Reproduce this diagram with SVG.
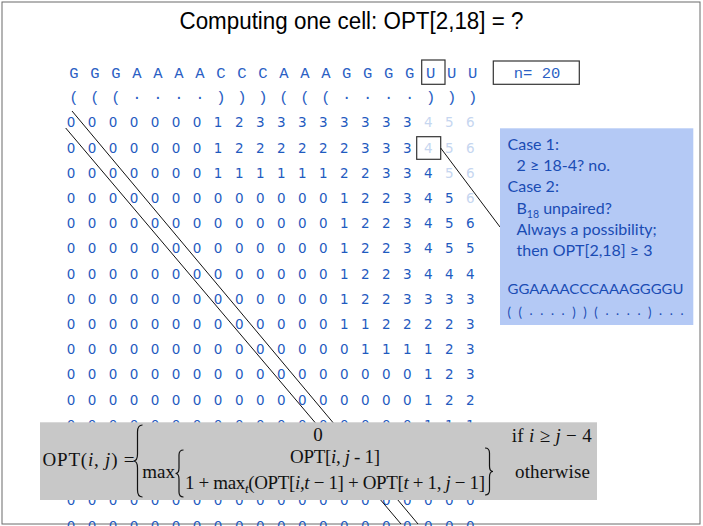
<svg xmlns="http://www.w3.org/2000/svg" width="703" height="526" viewBox="0 0 703 526">
  <style>
    .title { font-family: "Liberation Sans", Arial, sans-serif; font-size: 23px; fill: #000; }
    .seq { font-family: "Liberation Mono", "Courier New", monospace; font-size: 15.5px; fill: #2b5fc4; text-anchor: middle; }
    .num { font-family: "DejaVu Sans", Verdana, sans-serif; font-size: 13.5px; fill: #1f5bbf; text-anchor: middle; }
    .pending { fill: #c6d6f0; }
    .frame { fill: none; stroke: #6a6a6a; stroke-width: 1; }
    .cellbox { fill: none; stroke: #333; stroke-width: 1.2; }
    .note { font-family: Lato, "Open Sans", sans-serif; font-size: 16px; fill: #1a4cb4; }
    .note-sm { font-family: Lato, "Open Sans", sans-serif; font-size: 13px; fill: #1a4cb4; }
    .math { font-family: "Liberation Serif", "Times New Roman", serif; font-size: 19px; fill: #111; }
    .it { font-style: italic; }
    .brace { fill: none; stroke: #111; stroke-width: 1.2; }
    .conn line { stroke: #111; stroke-width: 1; }
  </style>

  <rect x="0" y="0" width="703" height="526" fill="#fff"/>
  <rect class="frame" x="2" y="2" width="698" height="522"/>

  <g id="title">
    <text class="title" x="351.5" y="29" text-anchor="middle" textLength="344" lengthAdjust="spacingAndGlyphs">Computing one cell: OPT[2,18] = ?</text>
  </g>

  <!-- RNA sequence and its secondary structure -->
  <g id="sequence">
    <text class="seq" y="78" x="74 84.5 95 105.5 116 126.5 136.9 147.4 157.9 168.4 178.9 189.4 199.9 210.4 220.9 231.4 241.8 252.3 262.8 273.3 283.8 294.3 304.8 315.3 325.8 336.3 346.7 357.2 367.7 378.2 388.7 399.2 409.7 420.2 430.7 441.2 451.6 462.1 472.6">G G G A A A A C C C A A A G G G G U U U</text>
    <rect class="cellbox" x="421.7" y="60" width="23.3" height="24.3"/>
  </g>
  <g id="structure">
    <text class="seq" y="102" x="74 84.5 95 105.5 116 126.5 136.9 147.4 157.9 168.4 178.9 189.4 199.9 210.4 220.9 231.4 241.8 252.3 262.8 273.3 283.8 294.3 304.8 315.3 325.8 336.3 346.7 357.2 367.7 378.2 388.7 399.2 409.7 420.2 430.7 441.2 451.6 462.1 472.6">( ( ( <tspan dy="-3.5">. . . .</tspan> <tspan dy="3.5">) ) ) ( ( (</tspan> <tspan dy="-3.5">. . . .</tspan> <tspan dy="3.5">) ) )</tspan></text>
  </g>

  <g id="length">
    <rect class="cellbox" x="493.3" y="61" width="86" height="23.3"/>
    <text class="seq" x="537" y="78" xml:space="preserve">n= 20</text>
  </g>

  <!-- OPT table: row i, column j -->
  <g id="table">
    <text class="num" y="127.3" x="71 81.5 92 102.5 113 123.5 134.1 144.6 155.1 165.6 176.1 186.6 197.1 207.6 218.1 228.6 239.2 249.7 260.2 270.7 281.2 291.7 302.2 312.7 323.2 333.7 344.3 354.8 365.3 375.8 386.3 396.8 407.3 417.8 428.3 438.8 449.4 459.9 470.4">0 0 0 0 0 0 0 1 2 3 3 3 3 3 3 3 3 <tspan class="pending">4 5 6</tspan></text>
    <text class="num" y="152.5" x="71 81.5 92 102.5 113 123.5 134.1 144.6 155.1 165.6 176.1 186.6 197.1 207.6 218.1 228.6 239.2 249.7 260.2 270.7 281.2 291.7 302.2 312.7 323.2 333.7 344.3 354.8 365.3 375.8 386.3 396.8 407.3 417.8 428.3 438.8 449.4 459.9 470.4">0 0 0 0 0 0 0 1 2 2 2 2 2 2 3 3 3 <tspan class="pending">4 5 6</tspan></text>
    <text class="num" y="177.7" x="71 81.5 92 102.5 113 123.5 134.1 144.6 155.1 165.6 176.1 186.6 197.1 207.6 218.1 228.6 239.2 249.7 260.2 270.7 281.2 291.7 302.2 312.7 323.2 333.7 344.3 354.8 365.3 375.8 386.3 396.8 407.3 417.8 428.3 438.8 449.4 459.9 470.4">0 0 0 0 0 0 0 1 1 1 1 1 1 2 2 3 3 4 <tspan class="pending">5 6</tspan></text>
    <text class="num" y="202.9" x="71 81.5 92 102.5 113 123.5 134.1 144.6 155.1 165.6 176.1 186.6 197.1 207.6 218.1 228.6 239.2 249.7 260.2 270.7 281.2 291.7 302.2 312.7 323.2 333.7 344.3 354.8 365.3 375.8 386.3 396.8 407.3 417.8 428.3 438.8 449.4 459.9 470.4">0 0 0 0 0 0 0 0 0 0 0 0 0 1 2 2 3 4 5 <tspan class="pending">6</tspan></text>
    <text class="num" y="228.1" x="71 81.5 92 102.5 113 123.5 134.1 144.6 155.1 165.6 176.1 186.6 197.1 207.6 218.1 228.6 239.2 249.7 260.2 270.7 281.2 291.7 302.2 312.7 323.2 333.7 344.3 354.8 365.3 375.8 386.3 396.8 407.3 417.8 428.3 438.8 449.4 459.9 470.4">0 0 0 0 0 0 0 0 0 0 0 0 0 1 2 2 3 4 5 6</text>
    <text class="num" y="253.3" x="71 81.5 92 102.5 113 123.5 134.1 144.6 155.1 165.6 176.1 186.6 197.1 207.6 218.1 228.6 239.2 249.7 260.2 270.7 281.2 291.7 302.2 312.7 323.2 333.7 344.3 354.8 365.3 375.8 386.3 396.8 407.3 417.8 428.3 438.8 449.4 459.9 470.4">0 0 0 0 0 0 0 0 0 0 0 0 0 1 2 2 3 4 5 5</text>
    <text class="num" y="278.5" x="71 81.5 92 102.5 113 123.5 134.1 144.6 155.1 165.6 176.1 186.6 197.1 207.6 218.1 228.6 239.2 249.7 260.2 270.7 281.2 291.7 302.2 312.7 323.2 333.7 344.3 354.8 365.3 375.8 386.3 396.8 407.3 417.8 428.3 438.8 449.4 459.9 470.4">0 0 0 0 0 0 0 0 0 0 0 0 0 1 2 2 3 4 4 4</text>
    <text class="num" y="303.7" x="71 81.5 92 102.5 113 123.5 134.1 144.6 155.1 165.6 176.1 186.6 197.1 207.6 218.1 228.6 239.2 249.7 260.2 270.7 281.2 291.7 302.2 312.7 323.2 333.7 344.3 354.8 365.3 375.8 386.3 396.8 407.3 417.8 428.3 438.8 449.4 459.9 470.4">0 0 0 0 0 0 0 0 0 0 0 0 0 1 2 2 3 3 3 3</text>
    <text class="num" y="328.9" x="71 81.5 92 102.5 113 123.5 134.1 144.6 155.1 165.6 176.1 186.6 197.1 207.6 218.1 228.6 239.2 249.7 260.2 270.7 281.2 291.7 302.2 312.7 323.2 333.7 344.3 354.8 365.3 375.8 386.3 396.8 407.3 417.8 428.3 438.8 449.4 459.9 470.4">0 0 0 0 0 0 0 0 0 0 0 0 0 1 1 2 2 2 2 3</text>
    <text class="num" y="354.1" x="71 81.5 92 102.5 113 123.5 134.1 144.6 155.1 165.6 176.1 186.6 197.1 207.6 218.1 228.6 239.2 249.7 260.2 270.7 281.2 291.7 302.2 312.7 323.2 333.7 344.3 354.8 365.3 375.8 386.3 396.8 407.3 417.8 428.3 438.8 449.4 459.9 470.4">0 0 0 0 0 0 0 0 0 0 0 0 0 0 1 1 1 1 2 3</text>
    <text class="num" y="379.3" x="71 81.5 92 102.5 113 123.5 134.1 144.6 155.1 165.6 176.1 186.6 197.1 207.6 218.1 228.6 239.2 249.7 260.2 270.7 281.2 291.7 302.2 312.7 323.2 333.7 344.3 354.8 365.3 375.8 386.3 396.8 407.3 417.8 428.3 438.8 449.4 459.9 470.4">0 0 0 0 0 0 0 0 0 0 0 0 0 0 0 0 0 1 2 3</text>
    <text class="num" y="404.5" x="71 81.5 92 102.5 113 123.5 134.1 144.6 155.1 165.6 176.1 186.6 197.1 207.6 218.1 228.6 239.2 249.7 260.2 270.7 281.2 291.7 302.2 312.7 323.2 333.7 344.3 354.8 365.3 375.8 386.3 396.8 407.3 417.8 428.3 438.8 449.4 459.9 470.4">0 0 0 0 0 0 0 0 0 0 0 0 0 0 0 0 0 1 2 2</text>
    <text class="num" y="429.7" x="71 81.5 92 102.5 113 123.5 134.1 144.6 155.1 165.6 176.1 186.6 197.1 207.6 218.1 228.6 239.2 249.7 260.2 270.7 281.2 291.7 302.2 312.7 323.2 333.7 344.3 354.8 365.3 375.8 386.3 396.8 407.3 417.8 428.3 438.8 449.4 459.9 470.4">0 0 0 0 0 0 0 0 0 0 0 0 0 0 0 0 0 1 1 1</text>
    <text class="num" y="505.3" x="71 81.5 92 102.5 113 123.5 134.1 144.6 155.1 165.6 176.1 186.6 197.1 207.6 218.1 228.6 239.2 249.7 260.2 270.7 281.2 291.7 302.2 312.7 323.2 333.7 344.3 354.8 365.3 375.8 386.3 396.8 407.3 417.8 428.3 438.8 449.4 459.9 470.4">0 0 0 0 0 0 0 0 0 0 0 0 0 0 0 0 0 0 0 0</text>
    <text class="num" y="530.5" x="71 81.5 92 102.5 113 123.5 134.1 144.6 155.1 165.6 176.1 186.6 197.1 207.6 218.1 228.6 239.2 249.7 260.2 270.7 281.2 291.7 302.2 312.7 323.2 333.7 344.3 354.8 365.3 375.8 386.3 396.8 407.3 417.8 428.3 438.8 449.4 459.9 470.4">0 0 0 0 0 0 0 0 0 0 0 0 0 0 0 0 0 0 0 0</text>
  </g>

  <g id="target-cell">
    <rect class="cellbox" x="416.7" y="136.7" width="24" height="22.6"/>
  </g>

  <g id="connectors" class="conn">
    <line x1="72" y1="111" x2="418" y2="524"/>
    <line x1="65.7" y1="128" x2="401" y2="524"/>
    <line x1="440.7" y1="148" x2="500" y2="227"/>
  </g>

  <g id="cases">
    <rect x="500" y="128.3" width="193.3" height="196.7" fill="#b4c9f5"/>
    <text class="note" x="507.5" y="150">Case 1:</text>
    <text class="note" x="516.5" y="170.5">2 ≥ 18-4? no.</text>
    <text class="note" x="507.5" y="192">Case 2:</text>
    <text class="note" x="516.5" y="213.5">B<tspan font-size="10.5" dy="4">18</tspan><tspan dy="-4"> unpaired?</tspan></text>
    <text class="note" x="516.5" y="235">Always a possibility;</text>
    <text class="note" x="516.5" y="256">then OPT[2,18] ≥ 3</text>
    <text class="note-sm" x="507.5" y="293.5" textLength="176" lengthAdjust="spacingAndGlyphs">GGAAAACCCAAAGGGGU</text>
    <text class="note-sm" x="507.5" y="316.5" textLength="176" lengthAdjust="spacing">( ( <tspan dy="-2">. . . .</tspan> <tspan dy="2">) ) (</tspan> <tspan dy="-2">. . . .</tspan> <tspan dy="2">)</tspan> <tspan dy="-2">. . .</tspan></text>
  </g>

  <!-- recurrence for OPT(i, j) -->
  <g id="recurrence">
    <rect x="40" y="422.3" width="557" height="77.7" fill="#c8c8c8"/>
    <text class="math" x="42.5" y="466" textLength="92" lengthAdjust="spacing">OPT(<tspan class="it">i</tspan>, <tspan class="it">j</tspan>) =</text>
    <path class="brace" d="M142.5,425 Q137.5,425 137.5,432 L137.5,454 Q137.5,461 133.5,461 Q137.5,461 137.5,468 L137.5,490 Q137.5,497 142.5,497"/>
    <text class="math" x="318" y="441" text-anchor="middle">0</text>
    <text class="math" x="142.3" y="478">max</text>
    <path class="brace" d="M183.5,450 Q179,450 179,455 L179,468 Q179,473.5 175.5,473.5 Q179,473.5 179,479 L179,492 Q179,497 183.5,497"/>
    <text class="math" x="335" y="463" text-anchor="middle" textLength="90" lengthAdjust="spacing">OPT[<tspan class="it">i</tspan>, <tspan class="it">j</tspan> - 1]</text>
    <text class="math" x="185" y="488.5" textLength="300" lengthAdjust="spacing">1 + max<tspan class="it" font-size="13" dy="4">t</tspan><tspan dy="-4">(OPT[</tspan><tspan class="it">i</tspan>,<tspan class="it">t</tspan> − 1] + OPT[<tspan class="it">t</tspan> + 1, <tspan class="it">j</tspan> − 1]</text>
    <path class="brace" d="M485,448 Q489.5,448 489.5,453 L489.5,466 Q489.5,471.5 493,471.5 Q489.5,471.5 489.5,477 L489.5,490 Q489.5,495 485,495"/>
    <text class="math" x="511.7" y="441.7" textLength="80" lengthAdjust="spacing">if <tspan class="it">i</tspan> ≥ <tspan class="it">j</tspan> − 4</text>
    <text class="math" x="515" y="478" textLength="75" lengthAdjust="spacing">otherwise</text>
  </g>
</svg>
